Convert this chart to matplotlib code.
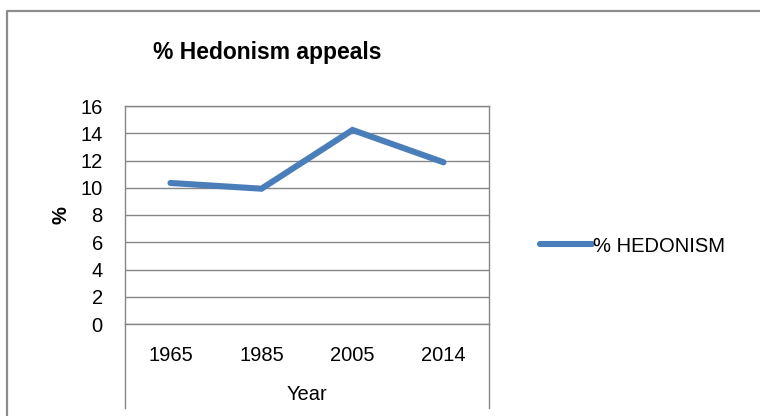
import matplotlib.pyplot as plt
from matplotlib.lines import Line2D

plt.rcParams['font.family'] = ['Liberation Sans', 'DejaVu Sans']

years = ['1965', '1985', '2005', '2014']
hedonism = [10.35, 9.93, 14.24, 11.87]
y_ticks = [0, 2, 4, 6, 8, 10, 12, 14, 16]

fig = plt.figure(figsize=(7.6, 4.16), dpi=100)
ax = fig.add_axes([125 / 760, 92 / 416, 364 / 760, 218 / 416])

ax.plot(range(len(years)), hedonism, color='#4a7ebb', linewidth=4.4,
        solid_capstyle='round', solid_joinstyle='miter', label='% HEDONISM')

ax.set_xlim(-0.5, len(years) - 0.5)
ax.set_ylim(0, 16)
ax.set_yticks(y_ticks)
ax.set_xticks(range(len(years)))
ax.set_xticklabels(years)
ax.tick_params(axis='both', length=0, labelsize=14.5)
ax.tick_params(axis='y', pad=16)
ax.tick_params(axis='x', pad=16)
ax.grid(axis='y', color='#868686', linewidth=1)
ax.set_axisbelow(True)
for s in ax.spines.values():
    s.set_color('#868686')
    s.set_linewidth(1)

fig.text(267 / 760, (416 - 52) / 416, '% Hedonism appeals', fontsize=16.5,
         fontweight='bold', ha='center', va='center')

ax.set_ylabel('%', fontsize=14.5, fontweight='bold')
ax.yaxis.set_label_coords(-55 / 364, 0.5)
ax.set_xlabel('Year', fontsize=14.5)
ax.xaxis.set_label_coords(0.5, -71 / 218)
ax.xaxis.label.set_va('center')

# Excel-style category axis side lines
for x in (125, 488.5):
    fig.add_artist(Line2D([x / 760, x / 760], [92 / 416, 8 / 416],
                          color='#868686', linewidth=1))

# outer chart border (left + top only visible)
fig.add_artist(Line2D([7 / 760, 7 / 760, 1.0], [0, (416 - 11) / 416, (416 - 11) / 416],
                      color='#8c8c8c', linewidth=1.6))

ax.legend(loc='center left', bbox_to_anchor=(532 / 760, (416 - 246) / 416),
          bbox_transform=fig.transFigure, frameon=False, fontsize=14.5,
          handlelength=2.6, handletextpad=0.05, borderaxespad=0)

fig.savefig('out.png', dpi=100)
